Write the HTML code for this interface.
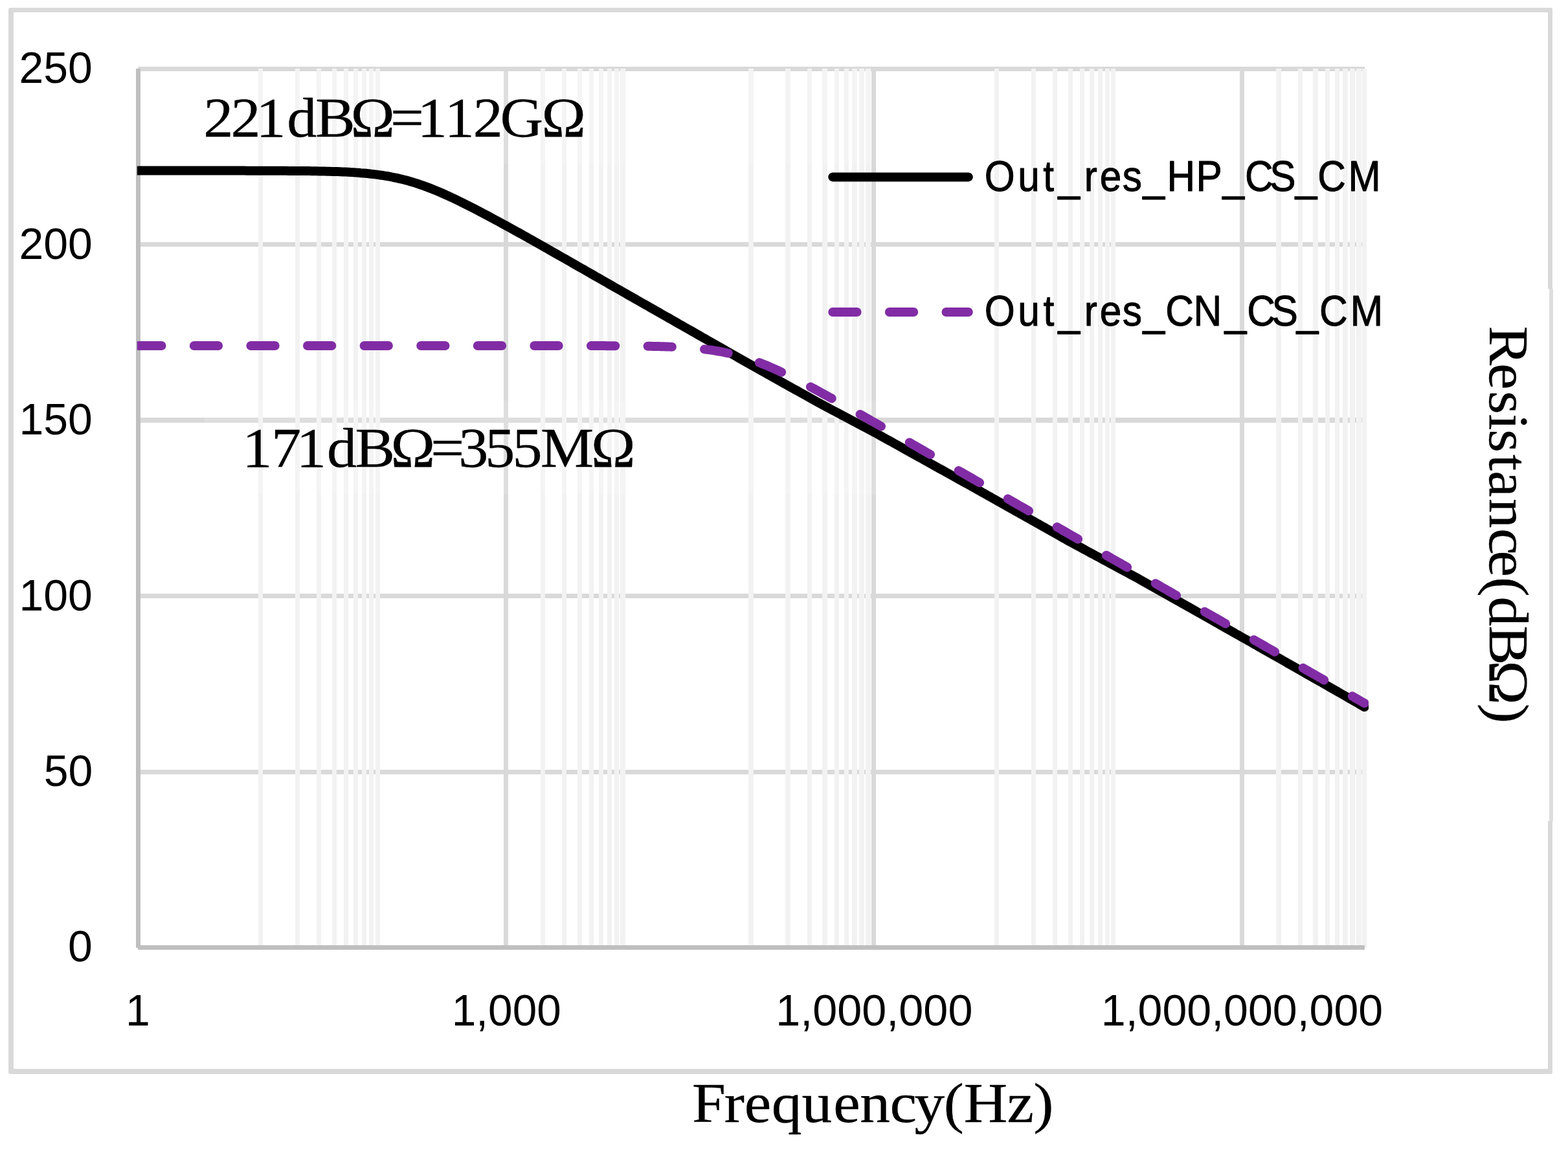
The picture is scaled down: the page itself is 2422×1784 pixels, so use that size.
<!DOCTYPE html>
<html lang="en"><head><meta charset="utf-8"><title>Output resistance vs frequency</title>
<style>html,body{margin:0;padding:0;background:#fff;}body{width:2422px;height:1784px;overflow:hidden;}svg{display:block;}text{fill:#000;white-space:pre;}.sans{font-family:"Liberation Sans",sans-serif;}.serif{font-family:"Liberation Serif",serif;stroke:#000;stroke-width:0.3px;stroke-linejoin:round;}</style></head><body>
<svg xmlns="http://www.w3.org/2000/svg" width="2422" height="1784" viewBox="0 0 2422 1784">
<rect x="0" y="0" width="2422" height="1784" fill="#fff"/>
<path fill="#d9d9d9" fill-rule="evenodd" d="M16,12 H2395 Q2398,12 2398,15 V1656 Q2398,1659 2395,1659 H16 Q13,1659 13,1656 V15 Q13,12 16,12 Z M21,19 V1651 H2391 V19 Z"/>
<rect x="2390" y="446" width="3" height="822" fill="#fff"/>
<rect x="2393" y="446" width="6" height="822" fill="#dedede"/>
<g fill="#d9d9d9">
<rect x="213" y="103" width="1895" height="7"/>
<rect x="213" y="374" width="1895" height="7"/>
<rect x="213" y="645" width="1895" height="8"/>
<rect x="213" y="917" width="1895" height="7"/>
<rect x="213" y="1189" width="1895" height="7"/>
</g>
<g fill="#f2f2f2">
<rect x="399" y="106" width="7" height="1358"/>
<rect x="456" y="106" width="7" height="1358"/>
<rect x="489" y="106" width="7" height="1358"/>
<rect x="513" y="106" width="7" height="1358"/>
<rect x="531" y="106" width="7" height="1358"/>
<rect x="546" y="106" width="7" height="1358"/>
<rect x="559" y="106" width="7" height="1358"/>
<rect x="570" y="106" width="7" height="1358"/>
<rect x="580" y="106" width="7" height="1358"/>
<rect x="835" y="106" width="7" height="1358"/>
<rect x="868" y="106" width="7" height="1358"/>
<rect x="892" y="106" width="7" height="1358"/>
<rect x="910" y="106" width="7" height="1358"/>
<rect x="925" y="106" width="7" height="1358"/>
<rect x="938" y="106" width="7" height="1358"/>
<rect x="949" y="106" width="7" height="1358"/>
<rect x="958" y="106" width="8" height="1358"/>
<rect x="1156" y="106" width="8" height="1358"/>
<rect x="1213" y="106" width="8" height="1358"/>
<rect x="1247" y="106" width="7" height="1358"/>
<rect x="1270" y="106" width="8" height="1358"/>
<rect x="1289" y="106" width="7" height="1358"/>
<rect x="1304" y="106" width="7" height="1358"/>
<rect x="1316" y="106" width="8" height="1358"/>
<rect x="1327" y="106" width="8" height="1358"/>
<rect x="1337" y="106" width="8" height="1358"/>
<rect x="1536" y="106" width="7" height="1358"/>
<rect x="1593" y="106" width="7" height="1358"/>
<rect x="1626" y="106" width="7" height="1358"/>
<rect x="1650" y="106" width="7" height="1358"/>
<rect x="1668" y="106" width="7" height="1358"/>
<rect x="1683" y="106" width="7" height="1358"/>
<rect x="1696" y="106" width="7" height="1358"/>
<rect x="1707" y="106" width="7" height="1358"/>
<rect x="1716" y="106" width="7" height="1358"/>
<rect x="1971" y="106" width="8" height="1358"/>
<rect x="2005" y="106" width="7" height="1358"/>
<rect x="2028" y="106" width="8" height="1358"/>
<rect x="2047" y="106" width="7" height="1358"/>
<rect x="2062" y="106" width="7" height="1358"/>
<rect x="2074" y="106" width="8" height="1358"/>
<rect x="2085" y="106" width="8" height="1358"/>
<rect x="2095" y="106" width="8" height="1358"/>
<rect x="2104" y="106" width="7" height="1358"/>
</g>
<g fill="#d9d9d9">
<rect x="778" y="103" width="7" height="1361"/>
<rect x="1346" y="103" width="7" height="1361"/>
<rect x="1915" y="103" width="7" height="1361"/>
</g>
<g fill="#bfbfbf">
<rect x="213" y="1460" width="1895" height="7"/>
<rect x="210" y="106" width="7" height="1358"/>
</g>
<g fill="#fff" fill-opacity="0.15">
<rect x="217" y="110" width="1129.5" height="142.7"/>
<rect x="316" y="618.7" width="1038.3" height="144.5"/>
</g>
<defs><clipPath id="pc"><rect x="211.8" y="90" width="1902.2" height="1390"/></clipPath></defs>
<g clip-path="url(#pc)" fill="none" stroke-linejoin="round" stroke-linecap="round" stroke-width="14">
<path d="M213.5,263.6 L217.5,263.6 L221.5,263.6 L225.5,263.6 L229.5,263.6 L233.5,263.6 L237.5,263.6 L241.5,263.6 L245.5,263.6 L249.5,263.6 L253.5,263.6 L257.5,263.6 L261.5,263.6 L265.5,263.6 L269.5,263.6 L273.5,263.6 L277.5,263.6 L281.5,263.6 L285.5,263.6 L289.5,263.6 L293.5,263.6 L297.5,263.6 L301.5,263.6 L305.5,263.6 L309.5,263.6 L313.5,263.6 L317.5,263.6 L321.5,263.6 L325.5,263.6 L329.5,263.6 L333.5,263.6 L337.5,263.6 L341.5,263.6 L345.5,263.6 L349.5,263.6 L353.5,263.6 L357.5,263.6 L361.5,263.6 L365.5,263.6 L369.5,263.6 L373.5,263.6 L377.5,263.6 L381.5,263.7 L385.5,263.7 L389.5,263.7 L393.5,263.7 L397.5,263.7 L401.5,263.7 L405.5,263.7 L409.5,263.7 L413.5,263.7 L417.5,263.7 L421.5,263.7 L425.5,263.8 L429.5,263.8 L433.5,263.8 L437.5,263.8 L441.5,263.8 L445.5,263.9 L449.5,263.9 L453.5,263.9 L457.5,263.9 L461.5,264.0 L465.5,264.0 L469.5,264.0 L473.5,264.1 L477.5,264.1 L481.5,264.2 L485.5,264.3 L489.5,264.3 L493.5,264.4 L497.5,264.5 L501.5,264.6 L505.5,264.7 L509.5,264.8 L513.5,264.9 L517.5,265.0 L521.5,265.1 L525.5,265.3 L529.5,265.5 L533.5,265.6 L537.5,265.8 L541.5,266.1 L545.5,266.3 L549.5,266.6 L553.5,266.8 L557.5,267.2 L561.5,267.5 L565.5,267.8 L569.5,268.2 L573.5,268.7 L577.5,269.1 L581.5,269.6 L585.5,270.2 L589.5,270.7 L593.5,271.4 L597.5,272.0 L601.5,272.7 L605.5,273.5 L609.5,274.3 L613.5,275.1 L617.5,276.1 L621.5,277.0 L625.5,278.0 L629.5,279.1 L633.5,280.2 L637.5,281.4 L641.5,282.6 L645.5,283.9 L649.5,285.3 L653.5,286.7 L657.5,288.1 L661.5,289.6 L665.5,291.1 L669.5,292.7 L673.5,294.4 L677.5,296.0 L681.5,297.7 L685.5,299.5 L689.5,301.3 L693.5,303.1 L697.5,305.0 L701.5,306.8 L705.5,308.8 L709.5,310.7 L713.5,312.7 L717.5,314.7 L721.5,316.7 L725.5,318.7 L729.5,320.7 L733.5,322.8 L737.5,324.9 L741.5,327.0 L745.5,329.1 L749.5,331.2 L753.5,333.3 L757.5,335.5 L761.5,337.6 L765.5,339.8 L769.5,341.9 L773.5,344.1 L777.5,346.3 L781.5,348.5 L785.5,350.7 L789.5,352.9 L793.5,355.1 L797.5,357.3 L801.5,359.5 L805.5,361.7 L809.5,364.0 L813.5,366.2 L817.5,368.5 L821.5,370.7 L825.5,373.0 L829.5,375.2 L833.5,377.5 L837.5,379.8 L841.5,382.0 L845.5,384.3 L849.5,386.6 L853.5,388.8 L857.5,391.1 L861.5,393.4 L865.5,395.7 L869.5,398.0 L873.5,400.2 L877.5,402.5 L881.5,404.8 L885.5,407.1 L889.5,409.4 L893.5,411.7 L897.5,414.0 L901.5,416.2 L905.5,418.5 L909.5,420.8 L913.5,423.1 L917.5,425.4 L921.5,427.7 L925.5,429.9 L929.5,432.2 L933.5,434.5 L937.5,436.8 L941.5,439.1 L945.5,441.4 L949.5,443.7 L953.5,446.0 L957.5,448.2 L961.5,450.5 L965.5,452.8 L969.5,455.1 L973.5,457.4 L977.5,459.6 L981.5,461.9 L985.5,464.2 L989.5,466.5 L993.5,468.8 L997.5,471.0 L1001.5,473.3 L1005.5,475.6 L1009.5,477.9 L1013.5,480.1 L1017.5,482.4 L1021.5,484.7 L1025.5,487.0 L1029.5,489.3 L1033.5,491.5 L1037.5,493.8 L1041.5,496.1 L1045.5,498.4 L1049.5,500.7 L1053.5,502.9 L1057.5,505.2 L1061.5,507.5 L1065.5,509.8 L1069.5,512.0 L1073.5,514.3 L1077.5,516.6 L1081.5,518.9 L1085.5,521.2 L1089.5,523.4 L1093.5,525.7 L1097.5,528.0 L1101.5,530.3 L1105.5,532.6 L1109.5,534.8 L1113.5,537.1 L1117.5,539.4 L1121.5,541.7 L1125.5,543.9 L1129.5,546.2 L1133.5,548.5 L1137.5,550.8 L1141.5,553.1 L1145.5,555.3 L1149.5,557.6 L1153.5,559.9 L1157.5,562.1 L1161.5,564.4 L1165.5,566.6 L1169.5,568.9 L1173.5,571.1 L1177.5,573.4 L1181.5,575.6 L1185.5,577.9 L1189.5,580.1 L1193.5,582.4 L1197.5,584.6 L1201.5,586.9 L1205.5,589.1 L1209.5,591.4 L1213.5,593.6 L1217.5,595.8 L1221.5,598.1 L1225.5,600.3 L1229.5,602.5 L1233.5,604.7 L1237.5,607.0 L1241.5,609.2 L1245.5,611.4 L1249.5,613.6 L1253.5,615.9 L1257.5,618.1 L1261.5,620.3 L1265.5,622.5 L1269.5,624.8 L1273.5,626.9 L1277.5,629.0 L1281.5,631.1 L1285.5,633.3 L1289.5,635.4 L1293.5,637.5 L1297.5,639.7 L1301.5,641.8 L1305.5,643.9 L1309.5,646.0 L1313.5,648.2 L1317.5,650.3 L1321.5,652.4 L1325.5,654.5 L1329.5,656.7 L1333.5,658.8 L1337.5,660.9 L1341.5,663.0 L1345.5,665.2 L1349.5,667.3 L1353.5,669.4 L1357.5,671.6 L1361.5,673.9 L1365.5,676.1 L1369.5,678.3 L1373.5,680.5 L1377.5,682.7 L1381.5,685.0 L1385.5,687.2 L1389.5,689.4 L1393.5,691.6 L1397.5,693.9 L1401.5,696.1 L1405.5,698.3 L1409.5,700.5 L1413.5,702.8 L1417.5,705.0 L1421.5,707.2 L1425.5,709.4 L1429.5,711.7 L1433.5,713.9 L1437.5,716.1 L1441.5,718.3 L1445.5,720.6 L1449.5,722.8 L1453.5,725.0 L1457.5,727.2 L1461.5,729.5 L1465.5,731.7 L1469.5,733.9 L1473.5,736.1 L1477.5,738.3 L1481.5,740.6 L1485.5,742.8 L1489.5,745.0 L1493.5,747.2 L1497.5,749.4 L1501.5,751.7 L1505.5,753.9 L1509.5,756.2 L1513.5,758.4 L1517.5,760.7 L1521.5,762.9 L1525.5,765.2 L1529.5,767.4 L1533.5,769.7 L1537.5,771.9 L1541.5,774.2 L1545.5,776.4 L1549.5,778.7 L1553.5,780.9 L1557.5,783.2 L1561.5,785.5 L1565.5,787.7 L1569.5,790.0 L1573.5,792.2 L1577.5,794.5 L1581.5,796.7 L1585.5,799.0 L1589.5,801.2 L1593.5,803.5 L1597.5,805.7 L1601.5,808.0 L1605.5,810.2 L1609.5,812.5 L1613.5,814.7 L1617.5,817.0 L1621.5,819.2 L1625.5,821.5 L1629.5,823.7 L1633.5,826.0 L1637.5,828.3 L1641.5,830.5 L1645.5,832.8 L1649.5,835.0 L1653.5,837.2 L1657.5,839.3 L1661.5,841.5 L1665.5,843.7 L1669.5,845.8 L1673.5,848.0 L1677.5,850.1 L1681.5,852.3 L1685.5,854.5 L1689.5,856.6 L1693.5,858.8 L1697.5,860.9 L1701.5,863.1 L1705.5,865.3 L1709.5,867.4 L1713.5,869.6 L1717.5,871.7 L1721.5,873.9 L1725.5,876.1 L1729.5,878.2 L1733.5,880.4 L1737.5,882.5 L1741.5,884.7 L1745.5,886.9 L1749.5,889.0 L1753.5,891.2 L1757.5,893.3 L1761.5,895.6 L1765.5,897.8 L1769.5,900.1 L1773.5,902.3 L1777.5,904.6 L1781.5,906.8 L1785.5,909.1 L1789.5,911.3 L1793.5,913.6 L1797.5,915.8 L1801.5,918.1 L1805.5,920.3 L1809.5,922.6 L1813.5,924.8 L1817.5,927.1 L1821.5,929.3 L1825.5,931.6 L1829.5,933.8 L1833.5,936.1 L1837.5,938.4 L1841.5,940.6 L1845.5,942.9 L1849.5,945.2 L1853.5,947.4 L1857.5,949.7 L1861.5,952.0 L1865.5,954.2 L1869.5,956.5 L1873.5,958.8 L1877.5,961.0 L1881.5,963.3 L1885.5,965.6 L1889.5,967.8 L1893.5,970.1 L1897.5,972.4 L1901.5,974.6 L1905.5,976.9 L1909.5,979.2 L1913.5,981.4 L1917.5,983.7 L1921.5,986.0 L1925.5,988.2 L1929.5,990.5 L1933.5,992.8 L1937.5,995.0 L1941.5,997.3 L1945.5,999.6 L1949.5,1001.8 L1953.5,1004.1 L1957.5,1006.3 L1961.5,1008.6 L1965.5,1010.9 L1969.5,1013.2 L1973.5,1015.5 L1977.5,1017.7 L1981.5,1020.0 L1985.5,1022.3 L1989.5,1024.6 L1993.5,1026.9 L1997.5,1029.1 L2001.5,1031.4 L2005.5,1033.7 L2009.5,1036.0 L2013.5,1038.3 L2017.5,1040.6 L2021.5,1042.8 L2025.5,1045.1 L2029.5,1047.4 L2033.5,1049.7 L2037.5,1052.0 L2041.5,1054.2 L2045.5,1056.5 L2049.5,1058.8 L2053.5,1061.1 L2057.5,1063.4 L2061.5,1065.6 L2065.5,1067.9 L2069.5,1070.2 L2073.5,1072.5 L2077.5,1074.8 L2081.5,1077.1 L2085.5,1079.4 L2089.5,1081.7 L2093.5,1084.0 L2097.5,1086.3 L2101.5,1088.6 L2105.5,1090.9 L2107.6,1092.1" stroke="#000"/>
<path d="M213.5,534.0 L217.5,534.0 L221.5,534.0 L225.5,534.0 L229.5,534.0 L233.5,534.0 L237.5,534.0 L241.5,534.0 L245.5,534.0 L249.5,534.0 L253.5,534.0 L257.5,534.0 L261.5,534.0 L265.5,534.0 L269.5,534.0 L273.5,534.0 L277.5,534.0 L281.5,534.0 L285.5,534.0 L289.5,534.0 L293.5,534.0 L297.5,534.0 L301.5,534.0 L305.5,534.0 L309.5,534.0 L313.5,534.0 L317.5,534.0 L321.5,534.0 L325.5,534.0 L329.5,534.0 L333.5,534.0 L337.5,534.0 L341.5,534.0 L345.5,534.0 L349.5,534.0 L353.5,534.0 L357.5,534.0 L361.5,534.0 L365.5,534.0 L369.5,534.0 L373.5,534.0 L377.5,534.0 L381.5,534.0 L385.5,534.0 L389.5,534.0 L393.5,534.0 L397.5,534.0 L401.5,534.0 L405.5,534.0 L409.5,534.0 L413.5,534.0 L417.5,534.0 L421.5,534.0 L425.5,534.0 L429.5,534.0 L433.5,534.0 L437.5,534.0 L441.5,534.0 L445.5,534.0 L449.5,534.0 L453.5,534.0 L457.5,534.0 L461.5,534.0 L465.5,534.0 L469.5,534.0 L473.5,534.0 L477.5,534.0 L481.5,534.0 L485.5,534.0 L489.5,534.0 L493.5,534.0 L497.5,534.0 L501.5,534.0 L505.5,534.0 L509.5,534.0 L513.5,534.0 L517.5,534.0 L521.5,534.0 L525.5,534.0 L529.5,534.0 L533.5,534.0 L537.5,534.0 L541.5,534.0 L545.5,534.0 L549.5,534.0 L553.5,534.0 L557.5,534.0 L561.5,534.0 L565.5,534.0 L569.5,534.0 L573.5,534.0 L577.5,534.0 L581.5,534.0 L585.5,534.0 L589.5,534.0 L593.5,534.0 L597.5,534.0 L601.5,534.0 L605.5,534.0 L609.5,534.0 L613.5,534.0 L617.5,534.0 L621.5,534.0 L625.5,534.0 L629.5,534.0 L633.5,534.0 L637.5,534.0 L641.5,534.0 L645.5,534.0 L649.5,534.0 L653.5,534.0 L657.5,534.0 L661.5,534.0 L665.5,534.0 L669.5,534.0 L673.5,534.0 L677.5,534.0 L681.5,534.0 L685.5,534.0 L689.5,534.0 L693.5,534.0 L697.5,534.0 L701.5,534.0 L705.5,534.0 L709.5,534.0 L713.5,534.0 L717.5,534.0 L721.5,534.0 L725.5,534.0 L729.5,534.0 L733.5,534.0 L737.5,534.0 L741.5,534.0 L745.5,534.0 L749.5,534.0 L753.5,534.0 L757.5,534.0 L761.5,534.0 L765.5,534.0 L769.5,534.0 L773.5,534.0 L777.5,534.0 L781.5,534.0 L785.5,534.0 L789.5,534.0 L793.5,534.0 L797.5,534.0 L801.5,534.0 L805.5,534.0 L809.5,534.0 L813.5,534.0 L817.5,534.0 L821.5,534.0 L825.5,534.0 L829.5,534.0 L833.5,534.0 L837.5,534.0 L841.5,534.0 L845.5,534.0 L849.5,534.0 L853.5,534.0 L857.5,534.0 L861.5,534.0 L865.5,534.0 L869.5,534.0 L873.5,534.0 L877.5,534.0 L881.5,534.0 L885.5,534.0 L889.5,534.0 L893.5,534.1 L897.5,534.1 L901.5,534.1 L905.5,534.1 L909.5,534.1 L913.5,534.1 L917.5,534.1 L921.5,534.1 L925.5,534.1 L929.5,534.1 L933.5,534.1 L937.5,534.2 L941.5,534.2 L945.5,534.2 L949.5,534.2 L953.5,534.2 L957.5,534.3 L961.5,534.3 L965.5,534.3 L969.5,534.3 L973.5,534.4 L977.5,534.4 L981.5,534.5 L985.5,534.5 L989.5,534.5 L993.5,534.6 L997.5,534.7 L1001.5,534.7 L1005.5,534.8 L1009.5,534.9 L1013.5,535.0 L1017.5,535.1 L1021.5,535.2 L1025.5,535.3 L1029.5,535.4 L1033.5,535.6 L1037.5,535.7 L1041.5,535.9 L1045.5,536.1 L1049.5,536.3 L1053.5,536.5 L1057.5,536.7 L1061.5,537.0 L1065.5,537.3 L1069.5,537.6 L1073.5,537.9 L1077.5,538.3 L1081.5,538.7 L1085.5,539.1 L1089.5,539.6 L1093.5,540.1 L1097.5,540.6 L1101.5,541.2 L1105.5,541.8 L1109.5,542.5 L1113.5,543.2 L1117.5,544.0 L1121.5,544.8 L1125.5,545.7 L1129.5,546.6 L1133.5,547.5 L1137.5,548.6 L1141.5,549.7 L1145.5,550.8 L1149.5,552.0 L1153.5,553.2 L1157.5,554.6 L1161.5,555.9 L1165.5,557.3 L1169.5,558.8 L1173.5,560.3 L1177.5,561.9 L1181.5,563.5 L1185.5,565.1 L1189.5,566.9 L1193.5,568.6 L1197.5,570.4 L1201.5,572.2 L1205.5,574.1 L1209.5,575.9 L1213.5,577.9 L1217.5,579.8 L1221.5,581.8 L1225.5,583.8 L1229.5,585.8 L1233.5,587.9 L1237.5,589.9 L1241.5,592.0 L1245.5,594.1 L1249.5,596.3 L1253.5,598.4 L1257.5,600.5 L1261.5,602.7 L1265.5,604.9 L1269.5,607.1 L1273.5,609.2 L1277.5,611.5 L1281.5,613.7 L1285.5,615.9 L1289.5,618.1 L1293.5,620.3 L1297.5,622.6 L1301.5,624.8 L1305.5,627.1 L1309.5,629.3 L1313.5,631.6 L1317.5,633.8 L1321.5,636.1 L1325.5,638.3 L1329.5,640.6 L1333.5,642.9 L1337.5,645.1 L1341.5,647.4 L1345.5,649.7 L1349.5,652.0 L1353.5,654.2 L1357.5,656.5 L1361.5,658.8 L1365.5,661.1 L1369.5,663.4 L1373.5,665.6 L1377.5,667.9 L1381.5,670.2 L1385.5,672.5 L1389.5,674.8 L1393.5,677.1 L1397.5,679.4 L1401.5,681.6 L1405.5,683.9 L1409.5,686.2 L1413.5,688.5 L1417.5,690.8 L1421.5,693.1 L1425.5,695.4 L1429.5,697.7 L1433.5,700.0 L1437.5,702.3 L1441.5,704.5 L1445.5,706.8 L1449.5,709.1 L1453.5,711.4 L1457.5,713.7 L1461.5,716.0 L1465.5,718.3 L1469.5,720.6 L1473.5,722.9 L1477.5,725.2 L1481.5,727.5 L1485.5,729.7 L1489.5,732.0 L1493.5,734.3 L1497.5,736.6 L1501.5,738.9 L1505.5,741.2 L1509.5,743.5 L1513.5,745.8 L1517.5,748.1 L1521.5,750.4 L1525.5,752.7 L1529.5,755.0 L1533.5,757.2 L1537.5,759.5 L1541.5,761.8 L1545.5,764.1 L1549.5,766.4 L1553.5,768.7 L1557.5,771.0 L1561.5,773.3 L1565.5,775.6 L1569.5,777.9 L1573.5,780.2 L1577.5,782.5 L1581.5,784.7 L1585.5,787.0 L1589.5,789.3 L1593.5,791.6 L1597.5,793.9 L1601.5,796.2 L1605.5,798.5 L1609.5,800.8 L1613.5,803.1 L1617.5,805.4 L1621.5,807.7 L1625.5,810.0 L1629.5,812.2 L1633.5,814.5 L1637.5,816.8 L1641.5,819.1 L1645.5,821.4 L1649.5,823.7 L1653.5,826.0 L1657.5,828.3 L1661.5,830.6 L1665.5,832.9 L1669.5,835.2 L1673.5,837.5 L1677.5,839.8 L1681.5,842.0 L1685.5,844.3 L1689.5,846.6 L1693.5,848.9 L1697.5,851.2 L1701.5,853.5 L1705.5,855.8 L1709.5,858.1 L1713.5,860.4 L1717.5,862.7 L1721.5,865.0 L1725.5,867.3 L1729.5,869.5 L1733.5,871.8 L1737.5,874.1 L1741.5,876.4 L1745.5,878.7 L1749.5,881.0 L1753.5,883.3 L1757.5,885.6 L1761.5,887.9 L1765.5,890.2 L1769.5,892.5 L1773.5,894.8 L1777.5,897.1 L1781.5,899.3 L1785.5,901.6 L1789.5,903.9 L1793.5,906.2 L1797.5,908.5 L1801.5,910.8 L1805.5,913.1 L1809.5,915.4 L1813.5,917.7 L1817.5,920.0 L1821.5,922.3 L1825.5,924.6 L1829.5,926.8 L1833.5,929.1 L1837.5,931.4 L1841.5,933.7 L1845.5,936.0 L1849.5,938.3 L1853.5,940.6 L1857.5,942.9 L1861.5,945.2 L1865.5,947.5 L1869.5,949.8 L1873.5,952.1 L1877.5,954.4 L1881.5,956.6 L1885.5,958.9 L1889.5,961.2 L1893.5,963.5 L1897.5,965.8 L1901.5,968.1 L1905.5,970.4 L1909.5,972.7 L1913.5,975.0 L1917.5,977.3 L1921.5,979.6 L1925.5,981.9 L1929.5,984.1 L1933.5,986.4 L1937.5,988.7 L1941.5,991.0 L1945.5,993.3 L1949.5,995.6 L1953.5,997.9 L1957.5,1000.2 L1961.5,1002.5 L1965.5,1004.8 L1969.5,1007.1 L1973.5,1009.4 L1977.5,1011.7 L1981.5,1013.9 L1985.5,1016.2 L1989.5,1018.5 L1993.5,1020.8 L1997.5,1023.1 L2001.5,1025.4 L2005.5,1027.7 L2009.5,1030.0 L2013.5,1032.3 L2017.5,1034.6 L2021.5,1036.9 L2025.5,1039.2 L2029.5,1041.4 L2033.5,1043.7 L2037.5,1046.0 L2041.5,1048.3 L2045.5,1050.6 L2049.5,1052.9 L2053.5,1055.2 L2057.5,1057.5 L2061.5,1059.8 L2065.5,1062.1 L2069.5,1064.4 L2073.5,1066.7 L2077.5,1069.0 L2081.5,1071.2 L2085.5,1073.5 L2089.5,1075.8 L2093.5,1078.1 L2097.5,1080.4 L2101.5,1082.7 L2105.5,1085.0 L2107.6,1086.2" stroke="#812ca5" stroke-dasharray="37.3 50.3" stroke-dashoffset="1.3"/>
</g>
<g fill="none" stroke-linecap="round" stroke-width="14">
<line x1="1286.3" y1="273.4" x2="1495.8" y2="273.4" stroke="#000"/>
<line x1="1286.3" y1="482" x2="1495.8" y2="482" stroke="#812ca5" stroke-dasharray="37.3 50.3"/>
</g>
<text class="sans" font-size="69.3" transform="translate(104.92,1485.30) scale(0.9800,1)">0</text>
<text class="sans" font-size="69.3" transform="translate(67.68,1213.90) scale(0.9800,1)">50</text>
<text class="sans" font-size="69.3" transform="translate(29.46,942.50) scale(0.9800,1)">100</text>
<text class="sans" font-size="69.3" transform="translate(29.46,671.10) scale(0.9800,1)">150</text>
<text class="sans" font-size="69.3" transform="translate(29.46,399.70) scale(0.9800,1)">200</text>
<text class="sans" font-size="69.3" transform="translate(29.46,128.30) scale(0.9800,1)">250</text>
<text class="sans" font-size="69.3" transform="translate(194.00,1583.50) scale(0.9800,1)">1</text>
<text class="sans" font-size="69.3" transform="translate(697.83,1583.50) scale(0.9741,1)">1,000</text>
<text class="sans" font-size="69.3" transform="translate(1198.27,1583.50) scale(0.9867,1)">1,000,000</text>
<text class="sans" font-size="69.3" transform="translate(1700.79,1583.50) scale(0.9828,1)">1,000,000,000</text>
<text class="sans" font-size="66.3" transform="translate(0.00,294.60) scale(0.9098,1)" x="1671.4 1728.1 1771.1 1796.6 1840.8 1867.2 1905.6 1940.6 1981.2 2030.6 2075.8 2113.8 2155.6 2199.0 2237.1 2288.9" stroke="#000" stroke-width="1.0" stroke-linejoin="round">Out_res_HP_CS_CM</text>
<text class="sans" font-size="66.3" transform="translate(0.00,503.40) scale(0.9130,1)" x="1665.6 1722.1 1765.0 1790.3 1834.4 1860.7 1899.0 1933.8 1971.9 2019.2 2071.9 2109.8 2151.8 2193.7 2232.3 2284.5" stroke="#000" stroke-width="1.0" stroke-linejoin="round">Out_res_CN_CS_CM</text>
<text class="serif" font-size="87.5" transform="translate(0.00,211.00) scale(1.0533,1)" x="298.4 338.4 375.6 420.8 462.5 514.1 572.6 612.2 652.1 693.7 733.3 794.2">221dBΩ=112GΩ</text>
<text class="serif" font-size="87.5" transform="translate(0.00,721.20) scale(1.0555,1)" x="354.6 397.0 433.6 478.5 519.7 571.8 630.3 670.9 709.9 749.8 791.0 865.1">171dBΩ=355MΩ</text>
<text class="serif" font-size="86.5" transform="translate(0.00,1733.00) scale(1.0815,1)" x="988.4 1034.4 1063.1 1102.0 1145.2 1190.2 1228.2 1271.0 1306.0 1347.9 1376.5 1438.4 1475.9">Frequency(Hz)</text>
<text class="serif" font-size="86.5" transform="translate(2301.00,0.00) rotate(90) scale(1.0564,1)" x="476.6 531.3 571.8 605.2 627.8 664.3 688.5 729.0 772.7 805.2 843.7 872.2 914.6 966.0 1028.7">Resistance(dBΩ)</text>
</svg></body></html>
